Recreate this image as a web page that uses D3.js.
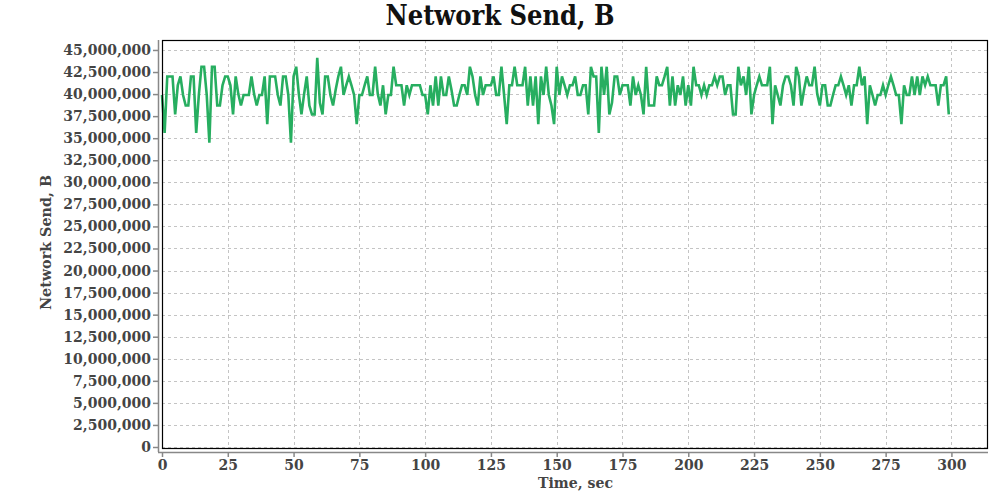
<!DOCTYPE html>
<html><head><meta charset="utf-8">
<script src="https://cdn.jsdelivr.net/npm/d3@7"></script>
<style>body{margin:0;background:#fff}text{font-family:"DejaVu Serif",serif;font-weight:bold}</style>
</head><body><svg id="c" width="1000" height="500"></svg>
<script>
const title = "Network Send, B";
const xLabel = "Time, sec";
const yLabel = "Network Send, B";
const xTicks = [0,25,50,75,100,125,150,175,200,225,250,275,300];
const yTicks = [0,2500000,5000000,7500000,10000000,12500000,15000000,17500000,20000000,22500000,25000000,27500000,30000000,32500000,35000000,37500000,40000000,42500000,45000000];
// values in millions of bytes, one per second starting at t=0
const sendMB = [
39.9,35.6,42.0,42.0,42.0,37.7,41.0,42.0,39.9,38.7,38.7,42.0,42.0,35.6,39.9,43.1,43.1,39.9,34.5,43.1,
43.1,38.7,38.7,41.0,42.0,42.0,41.0,37.7,42.0,40.0,38.7,39.9,39.9,39.9,42.0,40.0,38.7,39.9,39.9,42.0,
36.6,42.0,42.0,42.0,39.9,38.7,42.0,42.0,39.9,34.5,42.0,43.1,40.0,37.7,40.0,42.0,38.7,37.7,37.7,44.1,
39.0,37.7,42.0,42.0,39.9,38.7,40.5,42.0,43.1,39.9,41.0,42.0,41.0,39.9,36.6,39.9,39.9,41.0,42.0,39.9,
39.9,43.1,40.0,38.7,41.0,37.7,39.9,39.9,43.1,41.0,41.0,41.0,38.7,41.0,39.9,41.0,41.0,41.0,41.0,39.9,
39.9,37.7,41.0,38.7,42.0,38.7,42.0,39.9,39.9,42.0,40.5,38.7,38.7,39.9,41.0,41.0,39.9,43.1,42.0,39.9,
38.7,42.0,39.9,41.0,41.0,41.0,42.0,39.9,39.9,43.1,39.9,36.6,41.0,41.0,43.1,41.0,41.0,41.0,43.1,38.7,
42.0,38.7,42.0,36.6,42.0,39.9,43.1,39.9,38.7,36.6,43.1,39.9,42.0,41.0,39.9,41.0,41.0,42.0,39.9,39.9,
41.0,41.0,37.7,43.1,42.0,42.0,35.6,43.1,39.9,43.1,37.7,39.0,42.0,42.0,39.9,41.0,41.0,41.0,38.7,42.0,
39.9,41.0,39.9,37.7,43.1,38.7,38.7,38.7,42.0,41.0,41.0,42.0,43.1,38.7,42.0,38.7,41.0,39.9,42.0,38.7,
41.0,38.7,43.1,41.0,41.0,39.9,41.0,39.9,41.0,41.0,42.0,41.0,42.0,42.0,39.9,41.0,41.0,37.7,37.7,43.1,
41.0,42.0,39.9,43.1,37.7,39.9,41.0,42.0,41.0,41.0,41.0,43.1,36.6,41.0,39.9,38.7,41.0,42.0,42.0,41.0,
38.7,43.1,42.0,38.7,40.5,42.0,41.0,41.0,43.1,40.0,38.7,41.0,41.0,38.7,38.7,39.9,41.0,41.0,42.0,41.0,
39.9,41.0,38.7,41.0,41.0,43.1,41.0,42.0,36.6,41.0,39.9,38.7,39.9,39.9,41.0,39.9,41.0,42.0,41.0,39.9,
39.9,36.6,41.0,39.9,39.9,42.0,39.9,42.0,39.9,42.0,41.0,42.0,41.0,41.0,41.0,38.7,41.0,41.0,42.0,37.7
];
const seconds = sendMB.map((v,i)=>i);

const svg = d3.select("#c");
const L=162, R=988, T=40, B=448;
const x = d3.scaleLinear().domain([0,313.9]).range([L,R]);
const y = d3.scaleLinear().domain([0,46130000]).range([447,T]);
const ink="#444";

// grid
const g = svg.append("g");
g.selectAll(".gx").data(xTicks).join("line")
 .attr("x1",d=>Math.round(x(d))+0.5).attr("x2",d=>Math.round(x(d))+0.5).attr("y1",T).attr("y2",B)
 .attr("stroke","#c4c4c4").attr("stroke-dasharray","3,3");
g.selectAll(".gy").data(yTicks).join("line")
 .attr("y1",d=>Math.round(y(d))+0.5).attr("y2",d=>Math.round(y(d))+0.5).attr("x1",L).attr("x2",R)
 .attr("stroke","#c4c4c4").attr("stroke-dasharray","3,3");

// line
const line = d3.line().x((d,i)=>x(seconds[i])).y(d=>y(d*1e6));
svg.append("path").datum(sendMB).attr("d",line).attr("fill","none")
 .attr("stroke","#27ae60").attr("stroke-width",2.6).attr("stroke-linejoin","miter");

// plot border
svg.append("rect").attr("x",L+0.5).attr("y",T+0.5).attr("width",R-L-1).attr("height",B-T)
 .attr("fill","none").attr("stroke","#000").attr("stroke-width",1.2);

// axes
const yAxis = d3.axisLeft(y).tickValues(yTicks).tickFormat(d3.format(",")).tickSizeOuter(0).tickSize(5).tickPadding(2);
const ya = svg.append("g").attr("transform","translate(158,0)").call(yAxis);
ya.select(".domain").attr("d",`M0.5,${T}V${452}`).attr("stroke","#888").attr("stroke-width",1.5);
ya.selectAll(".tick line").attr("stroke","#888").attr("stroke-width",1.5);
ya.selectAll("text").attr("fill",ink).style("font-size","14px").style("font-family","DejaVu Serif").style("font-weight","bold");

const xAxis = d3.axisBottom(x).tickValues(xTicks).tickSizeOuter(0).tickSize(5).tickPadding(3);
const xa = svg.append("g").attr("transform","translate(0,452)").call(xAxis);
xa.select(".domain").attr("d",`M158,0.5H${R}`).attr("stroke","#888").attr("stroke-width",1.5);
xa.selectAll(".tick line").attr("stroke","#888").attr("stroke-width",1.5);
xa.selectAll("text").attr("fill",ink).style("font-size","14px").style("font-family","DejaVu Serif").style("font-weight","bold");

// titles
svg.append("text").attr("x",500).attr("y",25).attr("text-anchor","middle")
 .attr("textLength",229).attr("lengthAdjust","spacingAndGlyphs")
 .attr("fill","#111").style("font-size","27px").text(title);
svg.append("text").attr("x",575.5).attr("y",488).attr("text-anchor","middle")
 .attr("textLength",75).attr("lengthAdjust","spacingAndGlyphs")
 .attr("fill",ink).style("font-size","15px").text(xLabel);
svg.append("text").attr("transform","translate(51,242.5) rotate(-90)").attr("text-anchor","middle")
 .attr("textLength",135).attr("lengthAdjust","spacingAndGlyphs")
 .attr("fill",ink).style("font-size","15px").text(yLabel);
</script></body></html>
